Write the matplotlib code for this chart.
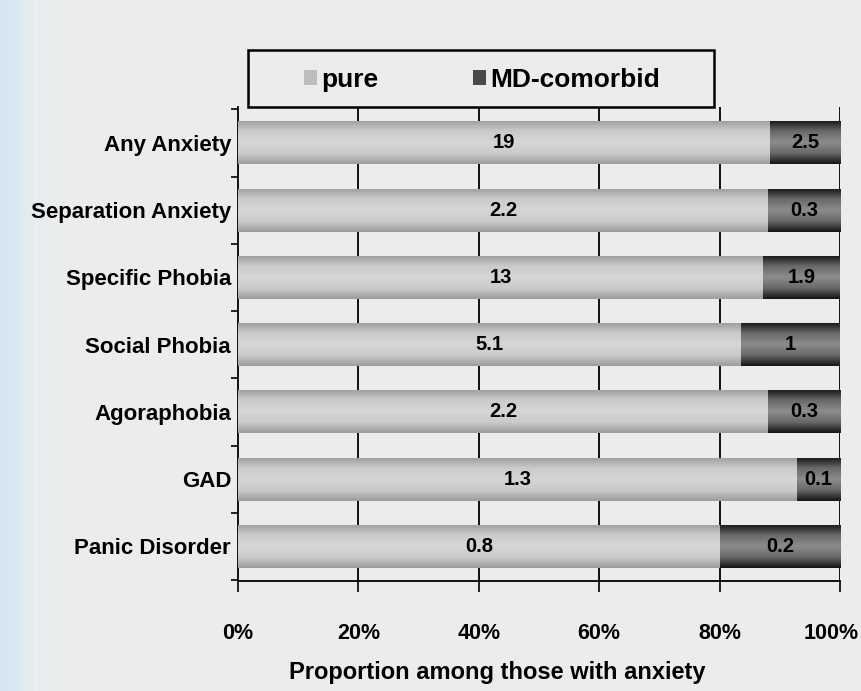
import numpy as np
import matplotlib.pyplot as plt
from matplotlib.colors import LinearSegmentedColormap
from matplotlib.patches import Rectangle
from matplotlib.transforms import ScaledTranslation

categories = ["Any Anxiety", "Separation Anxiety", "Specific Phobia", "Social Phobia",
              "Agoraphobia", "GAD", "Panic Disorder"]
pure = [19, 2.2, 13, 5.1, 2.2, 1.3, 0.8]
comorbid = [2.5, 0.3, 1.9, 1, 0.3, 0.1, 0.2]
xticks = [0, 20, 40, 60, 80, 100]
xticklabels = ["0%", "20%", "40%", "60%", "80%", "100%"]

plt.rcParams['font.family'] = ['Liberation Sans', 'DejaVu Sans']
plt.rcParams['font.weight'] = 'bold'

fig = plt.figure(figsize=(8.61, 6.91), dpi=100)
fig.patch.set_facecolor('#ececec')

# light blue glow on the left edge
bg = fig.add_axes([0, 0, 1, 1], zorder=-10)
grad = np.linspace(0, 1, 200).reshape(1, -1)
bgmap = LinearSegmentedColormap.from_list('bg', ['#d4e6f4', '#e8edf0', '#ececec', '#ececec'])
bg.imshow(grad, aspect='auto', cmap=bgmap, extent=[0, 1, 0, 1], vmin=0, vmax=0.12)
bg.set_xlim(0, 1)
bg.set_ylim(0, 1)
bg.axis('off')

ax = fig.add_axes([0.2764, 0.1592, 0.6992, 0.686])
ax.set_facecolor('#ececec')

y = np.arange(len(categories))
tot = np.array(pure) + np.array(comorbid)
pure_pct = np.array(pure) / tot * 100
com_pct = np.array(comorbid) / tot * 100

h = 0.64
b1 = ax.barh(y, pure_pct, height=h, color='#c6c6c6', zorder=2)
b2 = ax.barh(y, com_pct, left=pure_pct, height=h, color='#6a6a6a', zorder=2)

# vertical shading on the bars
grad_v = np.abs(np.linspace(-1, 1, 100)).reshape(-1, 1)
cm_pure = LinearSegmentedColormap.from_list('p', ['#d6d6d6', '#cbcbcb', '#9c9c9c'])
cm_com = LinearSegmentedColormap.from_list('c', ['#8c8c8c', '#686868', '#151515'])
for bars, cm in ((b1, cm_pure), (b2, cm_com)):
    for r in bars:
        x0, y0 = r.get_x(), r.get_y()
        im = ax.imshow(grad_v, aspect='auto', cmap=cm,
                       extent=[x0, x0 + r.get_width(), y0 + r.get_height(), y0],
                       zorder=3)
        im.set_clip_path(r)

for i in range(len(categories)):
    ax.text(pure_pct[i] / 2, y[i], "%g" % pure[i], ha='center', va='center',
            fontsize=14.5, fontweight='bold', zorder=4)
    ax.text(pure_pct[i] + com_pct[i] / 2, y[i], "%g" % comorbid[i], ha='center',
            va='center', fontsize=14.5, fontweight='bold', zorder=4)

ax.set_xlim(0, 100)
ax.set_ylim(6.513, -0.535)
ax.set_yticks(y)
ax.set_yticklabels(categories, fontsize=16, fontweight='bold')
ax.set_yticks(np.arange(-0.5, 7, 1), minor=True)
ax.tick_params(axis='y', which='major', length=0, pad=5)
ax.tick_params(axis='y', which='minor', length=5, width=1.2, direction='out')
ax.set_xticks(xticks)
ax.set_xticklabels(xticklabels, fontsize=15.5, fontweight='bold')
ax.tick_params(axis='x', length=8, width=1.2, direction='out', pad=22)
# last label sits a little left of its tick, as in the original
lab = ax.get_xticklabels()[-1]
lab.set_transform(lab.get_transform() + ScaledTranslation(-6 / 72, 0, fig.dpi_scale_trans))

for xv in xticks[1:]:
    ax.axvline(xv, color='black', lw=1.3, zorder=1)

ax.spines['top'].set_visible(False)
ax.spines['right'].set_visible(False)
ax.spines['left'].set_linewidth(1.3)
ax.spines['bottom'].set_linewidth(1.3)

ax.set_xlabel("Proportion among those with anxiety", fontsize=17, fontweight='bold')
ax.xaxis.set_label_coords(0.43, -0.168)

# legend box on top of the plot
fig.patches.append(Rectangle((248 / 861, 1 - 107 / 691), 466 / 861, 57 / 691,
                             transform=fig.transFigure, facecolor='#ececec',
                             edgecolor='black', lw=1.8, zorder=5))
leg = fig.legend([b1, b2], ["pure", "MD-comorbid"], loc='center',
                 bbox_to_anchor=(482 / 861, 1 - 80 / 691), ncol=2, frameon=False,
                 prop={'size': 19, 'weight': 'bold'}, borderaxespad=0,
                 handlelength=0.5, handleheight=0.5, handletextpad=0.15,
                 columnspacing=3.6)
leg.set_zorder(6)
leg.get_patches()[0].set_facecolor('#bdbdbd')
leg.get_patches()[1].set_facecolor('#4a4a4a')

plt.savefig("out.png", dpi=100, facecolor=fig.get_facecolor())
